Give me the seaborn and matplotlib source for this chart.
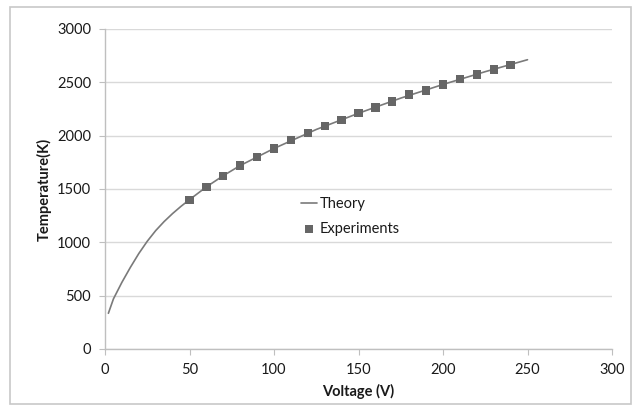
import matplotlib
matplotlib.use("Agg")
import matplotlib.pyplot as plt
import seaborn as sns
import pandas as pd
from matplotlib.patches import Rectangle

theory_v = [2, 5, 10, 15, 20, 25, 30, 35, 40, 45, 50, 60, 70, 80, 100, 125, 150, 175, 200, 225, 250]
theory_t = [335, 470, 625, 765, 895, 1010, 1110, 1195, 1270, 1338, 1400, 1520, 1625, 1720, 1880, 2058, 2210, 2352, 2480, 2600, 2712]

exp_v = [50, 60, 70, 80, 90, 100, 110, 120, 130, 140, 150, 160, 170, 180, 190, 200, 210, 220, 230, 240]
exp_t = [1400, 1520, 1625, 1720, 1800, 1880, 1960, 2025, 2090, 2150, 2210, 2265, 2320, 2385, 2425, 2480, 2530, 2575, 2620, 2665]

x_ticks = [0, 50, 100, 150, 200, 250, 300]
y_ticks = [0, 500, 1000, 1500, 2000, 2500, 3000]

sns.set_theme(style="white")
plt.rcParams['font.family'] = ['Lato', 'DejaVu Sans']

fig = plt.figure(figsize=(6.36, 4.12), dpi=100)
ax = fig.add_axes([105/636, 1-349/412, (612-105)/636, (349-29)/412])

df_t = pd.DataFrame({"Voltage": theory_v, "Temp": theory_t})
df_e = pd.DataFrame({"Voltage": exp_v, "Temp": exp_t})

sns.lineplot(data=df_t, x="Voltage", y="Temp", ax=ax, color="#7a7a7a", linewidth=1.2,
             label="Theory", zorder=3)
sns.scatterplot(data=df_e, x="Voltage", y="Temp", ax=ax, marker="s", color="#666666",
                s=36, edgecolor="none", label="Experiments", zorder=4)

ax.set_xlim(0, 300)
ax.set_ylim(0, 3000)
ax.set_xticks(x_ticks)
ax.set_yticks(y_ticks)
ax.set_xticklabels([str(v) for v in x_ticks])
ax.set_yticklabels([str(v) for v in y_ticks])
ax.yaxis.grid(True, color="#d9d9d9", linewidth=1)
ax.xaxis.grid(False)
ax.set_axisbelow(True)
for s in ["top", "right"]:
    ax.spines[s].set_visible(False)
for s in ["left", "bottom"]:
    ax.spines[s].set_color("#bfbfbf")
    ax.spines[s].set_linewidth(1)
ax.tick_params(axis="both", direction="out", length=4, width=0.8, color="#bfbfbf",
               labelsize=10.5, labelcolor="#1a1a1a", pad=6)
ax.tick_params(axis="x", bottom=True, pad=6)
ax.tick_params(axis="y", left=True, pad=6)

ax.set_xlabel("Voltage (V)", fontsize=10.5, fontweight="bold", color="#1a1a1a", labelpad=5)
ax.set_ylabel("Temperature(K)", fontsize=10.5, fontweight="bold", color="#1a1a1a", labelpad=4)

leg = ax.legend(loc="upper left", bbox_to_anchor=(0.375, 0.493), frameon=False, fontsize=10.5,
                handlelength=1.1, handletextpad=0.2, labelspacing=0.75, borderaxespad=0)
for t in leg.get_texts():
    t.set_color("#1a1a1a")

fig.patches.append(Rectangle((10/636, 1-404/412), (631-10)/636, (404-7)/412,
                             transform=fig.transFigure, fill=False,
                             edgecolor="#c8c8c8", linewidth=1.2))

fig.savefig("out.png", dpi=100)
